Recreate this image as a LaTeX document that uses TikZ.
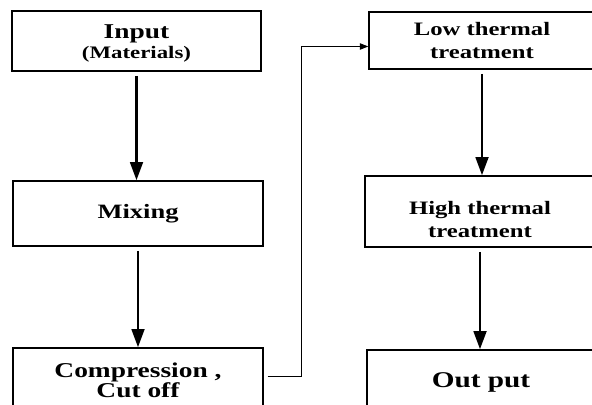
\documentclass[tikz,border=0pt]{standalone}
\usepackage{fontspec}
\newfontfamily\boxfont{Liberation Serif}[FakeStretch=1.3]
\usetikzlibrary{arrows.meta,positioning,calc}

\begin{document}
\begin{tikzpicture}[x=0.025cm,y=-0.025cm,
		procbox/.style={draw, line width=0.9pt, inner sep=0pt, align=center},
		flow/.style={line width=2pt, -{Triangle[length=13pt,width=9pt]}, shorten <=3pt},
		link/.style={line width=0.7pt, -{Triangle[length=6pt,width=4.5pt]}}]
		\useasboundingbox (0,0) rectangle (592,405);
		\clip (0,0) rectangle (592,405);

		% left column
		\node[procbox, minimum width=6.225cm, minimum height=1.5cm, text height=28pt,
			font=\boxfont\bfseries\fontsize{15}{12}\selectfont] (input) at (136.5,41)
			{Input\\[2.5pt]{\fontsize{12.5}{12}\selectfont (Materials)}};
		\node[procbox, minimum width=6.25cm, minimum height=1.625cm,
			font=\boxfont\bfseries\fontsize{14.5}{16}\selectfont] (mixing) at (138,213.5) {Mixing};
		\node[procbox, minimum width=6.25cm, minimum height=1.6cm, text depth=0pt,
			font=\boxfont\bfseries\fontsize{15}{14}\selectfont] (compress) at (138,380)
			{Compression ,\\Cut off};

		% right column
		\node[procbox, minimum width=5.65cm, minimum height=1.425cm,
			font=\boxfont\bfseries\fontsize{13.5}{17}\selectfont] (lowtherm) at (482,40.5)
			{Low thermal\\treatment};
		\node[procbox, minimum width=5.75cm, minimum height=1.775cm, text height=37pt,
			font=\boxfont\bfseries\fontsize{13.5}{16}\selectfont] (hightherm) at (480,211.5)
			{High thermal\\treatment};
		\node[procbox, minimum width=5.7cm, minimum height=1.5cm, text depth=0pt,
			font=\boxfont\bfseries\fontsize{16}{17}\selectfont] (output) at (481,380) {Out put};

		\draw[flow] (input.south) -- (input.south |- mixing.north);
		\draw[flow] (mixing.south) -- (mixing.south |- compress.north);
		\draw[flow] (lowtherm.south) -- (lowtherm.south |- hightherm.north);
		\draw[flow] (hightherm.south) -- (hightherm.south |- output.north);

		% link between the two columns
		\coordinate (bend) at ($(lowtherm.west)+(-67,6)$);
		\draw[link] ($(compress.east)+(4,-4)$) -| (bend) -- (bend -| lowtherm.west);
	\end{tikzpicture}
\end{document}
